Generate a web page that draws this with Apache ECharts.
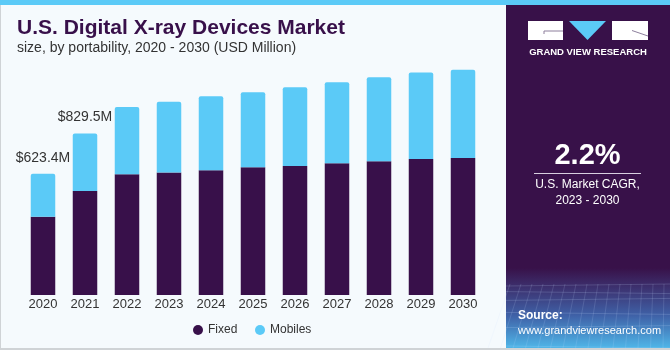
<!DOCTYPE html>
<html><head><meta charset="utf-8">
<script src="https://cdn.jsdelivr.net/npm/echarts@6/dist/echarts.min.js"></script>
<style>html,body{margin:0;padding:0;background:#f5fafd;}#c{width:670px;height:350px;}</style>
</head><body><div id="c"></div>
<script>
const years = ['2020','2021','2022','2023','2024','2025','2026','2027','2028','2029','2030'];
const fixedVals = [402, 535, 620, 629, 641, 656, 663, 677, 687, 699, 704];
const mobileVals = [221.4, 294.5, 346, 364, 380, 386, 404.5, 416, 432, 444, 454];
const totalLabels = ['$623.4M', '$829.5M', '', '', '', '', '', '', '', '', ''];
const titleText = 'U.S. Digital X-ray Devices Market';
const subtitleText = 'size, by portability, 2020 - 2030 (USD Million)';
const cagrText = '2.2%';
const cagrCaption = 'U.S. Market CAGR,\n2023 - 2030';

const FONT = '"Liberation Sans", Arial, sans-serif';
const chart = echarts.init(document.getElementById('c'), null, {renderer:'canvas'});

// decorative grid texture at panel bottom
const deco = [];
for (let i = 0; i < 6; i++) {
  const y = 286 + i * i * 1.6 + i * 4;
  deco.push({type: 'line', shape: {x1: 506, y1: y, x2: 670, y2: y + (i % 2 ? 2 : -2)},
    style: {stroke: 'rgba(200,220,255,0.18)', lineWidth: 1}, z: 5});
}
for (let i = 0; i < 16; i++) {
  const x = 506 + i * 11;
  deco.push({type: 'line', shape: {x1: x + 4, y1: 284, x2: x - 6 + (i - 8) * 1.5, y2: 348},
    style: {stroke: 'rgba(200,220,255,0.15)', lineWidth: 1}, z: 5});
}

const option = {
  backgroundColor: '#f5fafd',
  animation: false,
  grid: {left: 22, right: 186, top: 42, bottom: 55},
  xAxis: {
    type: 'category', data: years,
    axisLine: {show: false}, axisTick: {show: false},
    axisLabel: {color: '#333', fontSize: 13, fontFamily: FONT, margin: 3}
  },
  yAxis: {type: 'value', min: 0, max: 1300, show: false, splitLine: {show: false}},
  legend: [
    {data: ['Fixed'], left: 193, top: 324, padding: 0, icon: 'circle', itemWidth: 10, itemHeight: 10, itemGap: 5,
     textStyle: {color: '#333', fontSize: 12, fontFamily: FONT}},
    {data: ['Mobiles'], left: 255, top: 324, padding: 0, icon: 'circle', itemWidth: 10, itemHeight: 10, itemGap: 5,
     textStyle: {color: '#333', fontSize: 12, fontFamily: FONT}}
  ],
  series: [
    {name: 'Fixed', type: 'bar', stack: 's', data: fixedVals, barWidth: 24.5,
     itemStyle: {color: '#38104a'}},
    {name: 'Mobiles', type: 'bar', stack: 's', data: mobileVals, barWidth: 24.5,
     itemStyle: {color: '#5bcaf7', borderRadius: [2,2,0,0]},
     label: {show: true, position: 'top', distance: 9, color: '#333', fontSize: 14, fontFamily: FONT,
       formatter: p => totalLabels[p.dataIndex]}}
  ],
  graphic: [
    {type: 'rect', left: 0, top: 0, shape: {width: 670, height: 5}, style: {fill: '#5bcaf7'}, z: 10},
    {type: 'rect', left: 0, top: 5, shape: {width: 1, height: 345}, style: {fill: '#cfd3d6'}, z: 10},
    {type: 'rect', left: 0, top: 348, shape: {width: 670, height: 2}, style: {fill: '#cfd3d6'}, z: 10},
    {type: 'text', x: 17, y: 28.5, style: {text: titleText, fill: '#38104a', font: 'bold 21px ' + FONT, verticalAlign: 'middle'}},
    {type: 'text', x: 17, y: 48, style: {text: subtitleText, fill: '#333', font: '14px ' + FONT, verticalAlign: 'middle'}},
    // right panel
    {type: 'rect', left: 506, top: 5, shape: {width: 164, height: 343}, style: {fill: '#381149'}, z: 4},
    {type: 'rect', left: 506, top: 268, shape: {width: 164, height: 80},
     style: {fill: new echarts.graphic.LinearGradient(0,0,0,1,[
       {offset:0, color:'#381149'},{offset:0.2, color:'#3c2b68'},{offset:0.6, color:'#3f62a8'},{offset:1, color:'#4fb6e8'}])}, z: 4},
    ...deco,
    // logo
    {type: 'rect', left: 528, top: 21, shape: {width: 35, height: 19}, style: {fill: '#ffffff'}, z: 6},
    {type: 'polyline', shape: {points: [[563,31],[544,31],[544,34]]}, style: {stroke: '#8d7f9c', lineWidth: 1, fill: null}, z: 7},
    {type: 'polygon', shape: {points: [[569,21],[606,21],[587.5,40]]}, style: {fill: '#5bcaf7'}, z: 6},
    {type: 'rect', left: 612, top: 21, shape: {width: 36, height: 19}, style: {fill: '#ffffff'}, z: 6},
    {type: 'line', shape: {x1: 632, y1: 30.5, x2: 648, y2: 36}, style: {stroke: '#8d7f9c', lineWidth: 1}, z: 7},
    {type: 'text', x: 588, y: 52, style: {text: 'GRAND VIEW RESEARCH', fill: '#ffffff', font: 'bold 9.5px ' + FONT, align: 'center', verticalAlign: 'middle'}, z: 6},
    {type: 'text', x: 587.5, y: 156, style: {text: cagrText, fill: '#ffffff', font: 'bold 29px ' + FONT, align: 'center', verticalAlign: 'middle'}, z: 6},
    {type: 'rect', left: 534, top: 173, shape: {width: 107, height: 1}, style: {fill: '#d8cfe0'}, z: 6},
    {type: 'text', x: 587.5, y: 193, style: {text: cagrCaption, fill: '#ffffff', font: '12px ' + FONT, align: 'center', verticalAlign: 'middle', lineHeight: 16}, z: 6},
    {type: 'text', x: 518, y: 316, style: {text: 'Source:', fill: '#ffffff', font: 'bold 12px ' + FONT, verticalAlign: 'middle'}, z: 6},
    {type: 'text', x: 518, y: 331, style: {text: 'www.grandviewresearch.com', fill: '#ffffff', font: '11px ' + FONT, verticalAlign: 'middle'}, z: 6}
  ]
};
chart.setOption(option);
</script></body></html>
